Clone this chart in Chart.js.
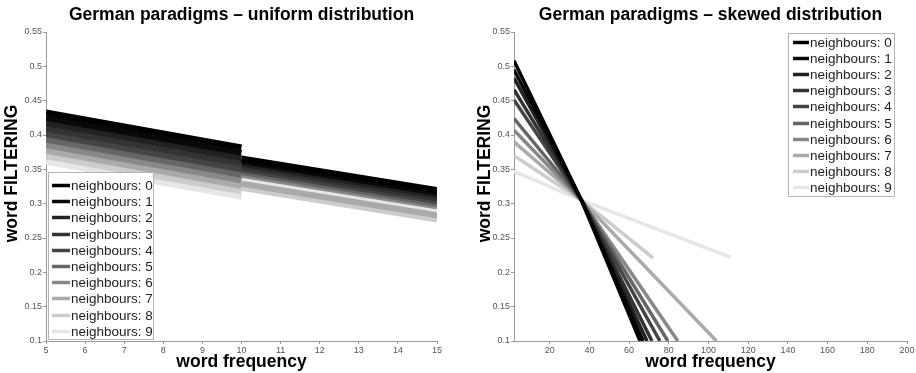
<!DOCTYPE html>
<html>
<head>
<meta charset="utf-8">
<script src="https://cdn.jsdelivr.net/npm/chart.js@4.4.1/dist/chart.umd.min.js"></script>
<style>
  html, body { margin: 0; padding: 0; background: #fff; }
  #wrap { position: relative; width: 916px; height: 373px; overflow: hidden; }
  .panel { position: absolute; top: 0; width: 458px; height: 373px; }
  #pLeft { left: 0; }
  #pRight { left: 458px; }
</style>
</head>
<body>
<div id="wrap">
  <div class="panel" id="pLeft"><canvas id="cLeft" width="458" height="373"></canvas></div>
  <div class="panel" id="pRight"><canvas id="cRight" width="458" height="373"></canvas></div>
</div>
<script>
// ---- shared series description ----
const neighbours = [0, 1, 2, 3, 4, 5, 6, 7, 8, 9];
const seriesColors = ['#000000', '#080808', '#222222', '#333333', '#444444',
                      '#666666', '#888888', '#aaaaaa', '#cccccc', '#e6e6e6'];

// ---- uniform distribution: word frequency 5..15, two segments split at 10 ----
const uniformX = [5, 10, 15];
const uniformStartY = [0.433, 0.425, 0.417, 0.409, 0.401, 0.393, 0.385, 0.377, 0.369, 0.361]; // x = 5
const uniformMidY   = [0.382, 0.374, 0.366, 0.358, 0.350, 0.342, 0.334, 0.326, 0.318, 0.310]; // x = 10 (first part)
const uniformJumpY  = [0.366, 0.362, 0.358, 0.354, 0.350, 0.346, 0.342, 0.329, 0.323, 0.337]; // x = 10 (second part)
const uniformEndY   = [0.320, 0.316, 0.312, 0.308, 0.304, 0.300, 0.296, 0.283, 0.277, 0.291]; // x = 15

// ---- skewed distribution: word frequency 2..200 ----
const skewStartX = 2;
const skewStartY = [0.508, 0.495, 0.483, 0.466, 0.451, 0.424, 0.407, 0.390, 0.370, 0.347];
const skewCrossX = 36;
const skewCrossY = 0.305;
const skewEndX = [65.5, 67, 69, 71.5, 75.5, 79.5, 84.5, 104, 72, 111];
const skewEndY = [0.1, 0.1, 0.1, 0.1, 0.1, 0.1, 0.1, 0.1, 0.221, 0.222];

// ---- axis ticks ----
const filterTicks = [0.1, 0.15, 0.2, 0.25, 0.3, 0.35, 0.4, 0.45, 0.5, 0.55];
const uniformTicks = [5, 6, 7, 8, 9, 10, 11, 12, 13, 14, 15];
const skewTicks = [20, 40, 60, 80, 100, 120, 140, 160, 180, 200];

Chart.defaults.font.family = "'Liberation Sans', Arial, Helvetica, sans-serif";
Chart.defaults.color = '#555';

const titleFontCss = "bold 17.5px 'Liberation Sans', Arial, sans-serif";

// Boxed legend with line swatches, drawn inside the plot area
const boxLegend = {
  id: 'boxLegend',
  afterDraw(chart, args, o) {
    const { ctx, chartArea: a } = chart;
    const x = o.fromRight ? a.right - o.right - o.width : a.left + o.left;
    const y = o.fromBottom ? a.bottom - o.bottom - o.height : a.top + o.top;
    ctx.save();
    ctx.fillStyle = '#ffffff';
    ctx.fillRect(x, y, o.width, o.height);
    ctx.strokeStyle = '#b4b4b4';
    ctx.lineWidth = 1;
    ctx.strokeRect(x + 0.5, y + 0.5, o.width - 1, o.height - 1);
    ctx.font = "13.5px 'Liberation Sans', Arial, sans-serif";
    ctx.textBaseline = 'middle';
    ctx.textAlign = 'left';
    chart.data.datasets.forEach((ds, i) => {
      const cy = Math.round(y + o.rowTop + i * o.rowGap) + 0.5;
      ctx.strokeStyle = ds.borderColor;
      ctx.lineWidth = 3.5;
      ctx.lineCap = 'butt';
      ctx.beginPath();
      ctx.moveTo(x + o.swatchX, cy);
      ctx.lineTo(x + o.swatchX + o.swatchW, cy);
      ctx.stroke();
      ctx.fillStyle = '#222';
      ctx.fillText(ds.label, x + o.swatchX + o.swatchW + 1, cy + 0.5);
    });
    ctx.restore();
  }
};

// Vertical axis caption, placed a little above the middle of the plot
const yCaption = {
  id: 'yCaption',
  afterDraw(chart, args, o) {
    const { ctx, chartArea: a } = chart;
    ctx.save();
    ctx.translate(o.x, (a.top + a.bottom) / 2 - o.lift);
    ctx.rotate(-Math.PI / 2);
    ctx.font = titleFontCss;
    ctx.fillStyle = '#000';
    ctx.textAlign = 'center';
    ctx.textBaseline = 'middle';
    ctx.fillText(o.text, 0, 0);
    ctx.restore();
  }
};

const titleFont = { size: 17.5, weight: 'bold' };

function tickFmt(v) { return String(+Number(v).toFixed(2)); }

function makeOptions(cfg) {
  return {
    responsive: false,
    animation: false,
    devicePixelRatio: 1,
    layout: { padding: { left: cfg.padLeft, right: cfg.padRight, top: 0, bottom: 0 } },
    elements: { point: { radius: 0 }, line: { tension: 0, borderCapStyle: 'butt', borderJoinStyle: 'miter' } },
    plugins: {
      legend: { display: false },
      tooltip: { enabled: false },
      title: {
        display: true, text: cfg.title, fullSize: false, color: '#000',
        font: titleFont, padding: { top: 5, bottom: 6 }
      },
      boxLegend: cfg.legend,
      yCaption: { text: 'word FILTERING', x: cfg.captionX, lift: 13 }
    },
    scales: {
      x: {
        type: 'linear', min: cfg.xMin, max: cfg.xMax,
        afterFit: s => { s.height = 32; },
        afterBuildTicks: s => { s.ticks = cfg.xTicks.map(v => ({ value: v })); },
        ticks: { autoSkip: false, maxRotation: 0, padding: 1, font: { size: 9 }, color: '#555' },
        grid: { display: true, drawOnChartArea: false, drawTicks: true, tickLength: 3, tickColor: '#999' },
        border: { display: true, color: '#999' },
        title: { display: true, text: 'word frequency', color: '#000', font: titleFont, padding: { top: 0, bottom: 0 } }
      },
      y: {
        type: 'linear', min: 0.1, max: 0.55,
        afterFit: s => { s.width = cfg.yWidth; },
        afterBuildTicks: s => { s.ticks = filterTicks.map(v => ({ value: v })); },
        ticks: { autoSkip: false, padding: 1, font: { size: 9 }, color: '#555', callback: tickFmt },
        grid: { display: true, drawOnChartArea: false, drawTicks: true, tickLength: 3, tickColor: '#999' },
        border: { display: true, color: '#999' }
      }
    }
  };
}

// uniform panel: each series is two straight pieces with a break at x = 10
const uniformSets = neighbours.map((n, i) => ({
  label: 'neighbours: ' + n,
  borderColor: seriesColors[i],
  borderWidth: 6,
  spanGaps: false,
  data: [
    { x: uniformX[0], y: uniformStartY[i] },
    { x: uniformX[1], y: uniformMidY[i] },
    { x: uniformX[1], y: null },
    { x: uniformX[1], y: uniformJumpY[i] },
    { x: uniformX[2], y: uniformEndY[i] }
  ]
}));

// skewed panel: each series runs through the common crossing point
const skewSets = neighbours.map((n, i) => ({
  label: 'neighbours: ' + n,
  borderColor: seriesColors[i],
  borderWidth: 3.5,
  data: [
    { x: skewStartX, y: skewStartY[i] },
    { x: skewCrossX, y: skewCrossY },
    { x: skewEndX[i], y: skewEndY[i] }
  ]
}));

new Chart(document.getElementById('cLeft'), {
  type: 'line',
  data: { datasets: uniformSets },
  plugins: [boxLegend, yCaption],
  options: makeOptions({
    title: 'German paradigms \u2013 uniform distribution',
    padLeft: 0, padRight: 21, yWidth: 46, captionX: 12,
    xMin: 5, xMax: 15, xTicks: uniformTicks,
    legend: { fromBottom: true, left: 2, bottom: 1, width: 106, height: 168,
              rowTop: 13, rowGap: 16.2, swatchX: 4, swatchW: 18 }
  })
});

new Chart(document.getElementById('cRight'), {
  type: 'line',
  data: { datasets: skewSets },
  plugins: [boxLegend, yCaption],
  options: makeOptions({
    title: 'German paradigms \u2013 skewed distribution',
    padLeft: 14, padRight: 9, yWidth: 42, captionX: 27,
    xMin: 2, xMax: 200, xTicks: skewTicks,
    legend: { fromRight: true, right: 12, top: 1, width: 107, height: 164,
              rowTop: 9, rowGap: 16.1, swatchX: 5, swatchW: 16 }
  })
});
</script>
</body>
</html>
